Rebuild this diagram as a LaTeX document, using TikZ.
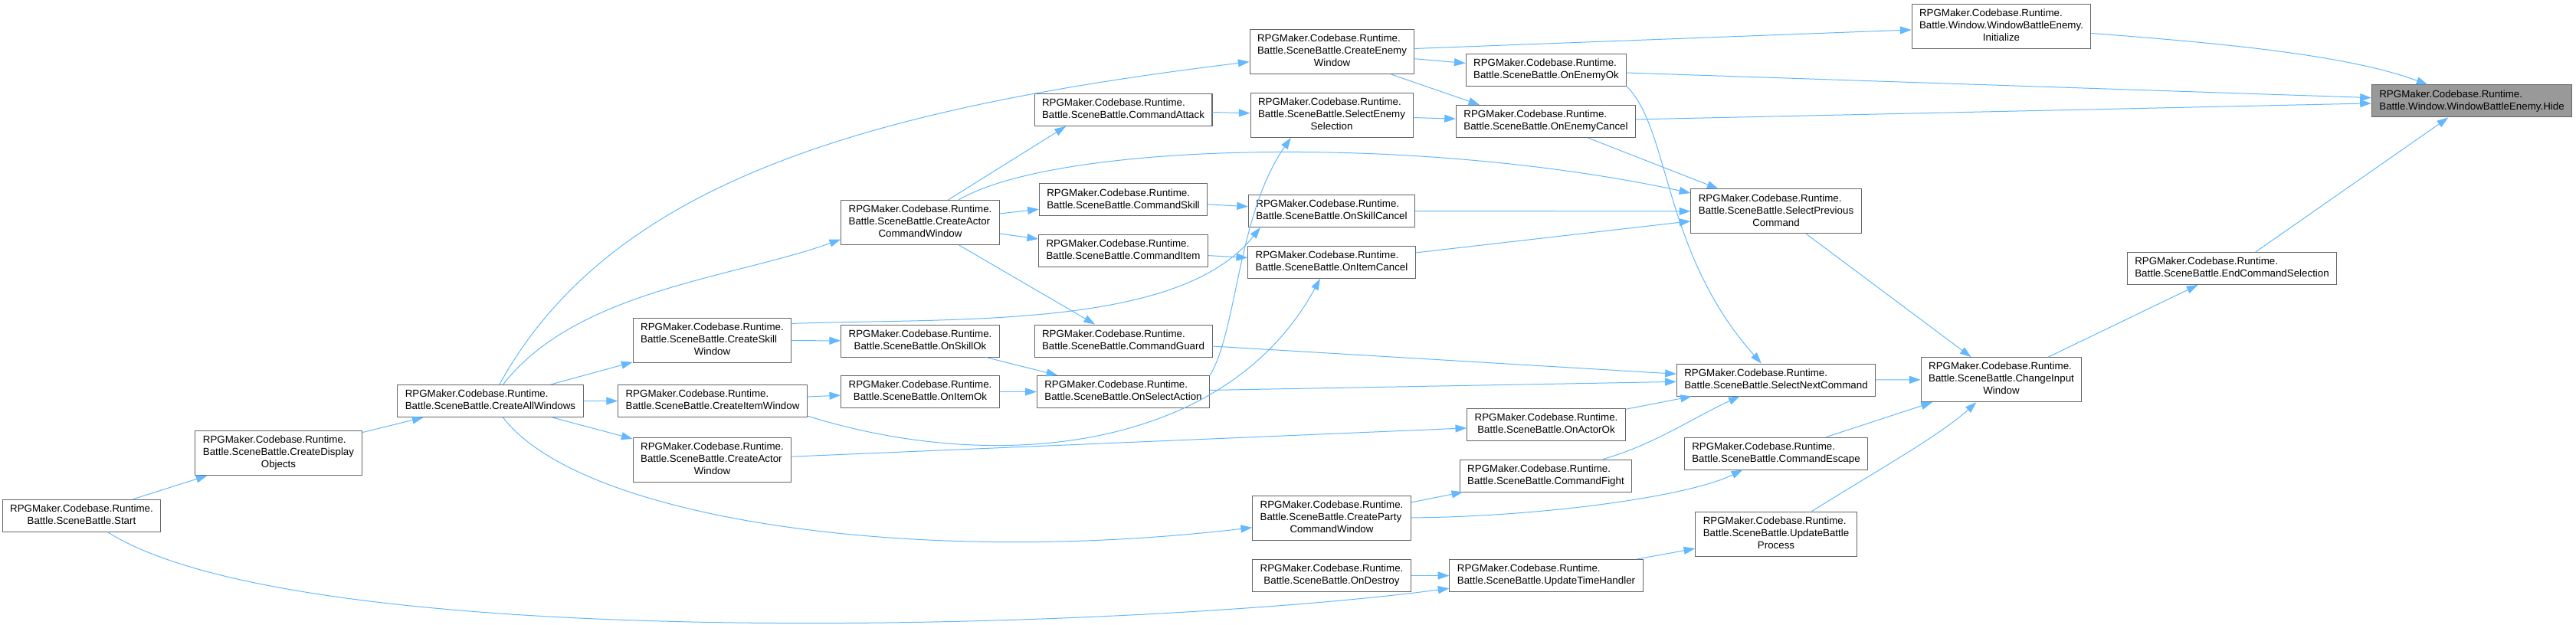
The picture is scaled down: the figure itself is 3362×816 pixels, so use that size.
\documentclass[tikz,border=0pt]{standalone}
\usepackage{fontspec}
\setmainfont{Liberation Sans}
\usepackage{tikz}
\usetikzlibrary{arrows.meta}
\definecolor{edgeblue}{RGB}{99,184,255}
\definecolor{boxline}{RGB}{102,102,102}
\definecolor{hidefill}{RGB}{153,153,153}

% labels: first lines left, last line centred
\newcommand{\twoln}[1]{\begin{tabular}{@{}l@{}}RPGMaker.Codebase.Runtime.\\\multicolumn{1}{@{}c@{}}{#1}\end{tabular}}
\newcommand{\threeln}[2]{\begin{tabular}{@{}l@{}}RPGMaker.Codebase.Runtime.\\#1\\\multicolumn{1}{@{}c@{}}{#2}\end{tabular}}

\begin{document}
\begin{tikzpicture}[
    x=0.75pt, y=-0.75pt,
    fnbox/.style  = {rectangle, draw=boxline, fill=white, line width=0.75pt,
                     inner xsep=7.5pt, inner ysep=3.75pt,
                     font=\fontsize{10}{12}\selectfont},
    hilite/.style = {fnbox, fill=hidefill},
    arrow/.style  = {-{Triangle[length=11pt, width=7.5pt]}, edgeblue, line width=0.75pt},
]
\useasboundingbox (0,0) rectangle (3362,816);

% --- callers, left to right ---
\node[fnbox] (start)         at (106.5,673)   {\twoln{Battle.SceneBattle.Start}};
\node[fnbox] (cdo)           at (363.5,591.5) {\threeln{Battle.SceneBattle.CreateDisplay}{Objects}};
\node[fnbox] (caw)           at (640,523.5)   {\twoln{Battle.SceneBattle.CreateAllWindows}};
\node[fnbox] (createskill)   at (929.5,444.5) {\threeln{Battle.SceneBattle.CreateSkill}{Window}};
\node[fnbox] (createitem)    at (930,523.5)   {\twoln{Battle.SceneBattle.CreateItemWindow}};
\node[fnbox] (createactor)   at (929.5,600.5) {\threeln{Battle.SceneBattle.CreateActor}{Window}};
\node[fnbox] (cacw)          at (1201,290.5)  {\threeln{Battle.SceneBattle.CreateActor}{CommandWindow}};
\node[fnbox] (onskillok)     at (1201,445)    {\twoln{Battle.SceneBattle.OnSkillOk}};
\node[fnbox] (onitemok)      at (1201,511.5)  {\twoln{Battle.SceneBattle.OnItemOk}};
\node[fnbox] (cmdattack)     at (1466,143.5)  {\twoln{Battle.SceneBattle.CommandAttack}};
\node[fnbox] (cmdskill)      at (1466,261)    {\twoln{Battle.SceneBattle.CommandSkill}};
\node[fnbox] (cmditem)       at (1466,327.5)  {\twoln{Battle.SceneBattle.CommandItem}};
\node[fnbox] (cmdguard)      at (1466,445)    {\twoln{Battle.SceneBattle.CommandGuard}};
\node[fnbox] (onselect)      at (1466,511.5)  {\twoln{Battle.SceneBattle.OnSelectAction}};
\node[fnbox] (cew)           at (1738.5,67.5) {\threeln{Battle.SceneBattle.CreateEnemy}{Window}};
\node[fnbox] (selenemy)      at (1738,150.5)  {\threeln{Battle.SceneBattle.SelectEnemy}{Selection}};
\node[fnbox] (onskillcancel) at (1738,275.5)  {\twoln{Battle.SceneBattle.OnSkillCancel}};
\node[fnbox] (onitemcancel)  at (1738,342.5)  {\twoln{Battle.SceneBattle.OnItemCancel}};
\node[fnbox] (cpcw)          at (1738,676.5)  {\threeln{Battle.SceneBattle.CreateParty}{CommandWindow}};
\node[fnbox] (ondestroy)     at (1738,751.5)  {\twoln{Battle.SceneBattle.OnDestroy}};
\node[fnbox] (onenemyok)     at (2018,91.5)   {\twoln{Battle.SceneBattle.OnEnemyOk}};
\node[fnbox] (onenemycancel) at (2017.5,158.5) {\twoln{Battle.SceneBattle.OnEnemyCancel}};
\node[fnbox] (onactorok)     at (2018,554.5)  {\twoln{Battle.SceneBattle.OnActorOk}};
\node[fnbox] (cmdfight)      at (2017.5,621)  {\twoln{Battle.SceneBattle.CommandFight}};
\node[fnbox] (uth)           at (2018,751.5)  {\twoln{Battle.SceneBattle.UpdateTimeHandler}};
\node[fnbox] (selprev)       at (2318,276)    {\threeln{Battle.SceneBattle.SelectPrevious}{Command}};
\node[fnbox] (selnext)       at (2318,496)    {\twoln{Battle.SceneBattle.SelectNextCommand}};
\node[fnbox] (cmdescape)     at (2318,592)    {\twoln{Battle.SceneBattle.CommandEscape}};
\node[fnbox] (ubp)           at (2318,697)    {\threeln{Battle.SceneBattle.UpdateBattle}{Process}};
\node[fnbox] (changeinput)   at (2612,495.7)  {\threeln{Battle.SceneBattle.ChangeInput}{Window}};
\node[fnbox] (endcmd)        at (2913,350.5)  {\twoln{Battle.SceneBattle.EndCommandSelection}};
\node[fnbox] (init)          at (2612,34.5)   {\threeln{Battle.Window.WindowBattleEnemy.}{Initialize}};
\node[hilite] (hide)         at (3226,132)    {\twoln{Battle.Window.WindowBattleEnemy.Hide}};

% --- calls ---
\draw[arrow] (start) -- (cdo);
\draw[arrow] (start) .. controls (400,860) and (1500,820) .. (uth);
\draw[arrow] (cdo) -- (caw);
\draw[arrow] (caw) -- (createskill);
\draw[arrow] (caw) -- (createitem);
\draw[arrow] (caw) -- (createactor);
\draw[arrow] (caw) .. controls (797,238) and (1129,142) .. (cew);
\draw[arrow] (caw) .. controls (752,379) and (957,363) .. (cacw.192);
\draw[arrow] (caw) .. controls (760,680) and (1200,740) .. (cpcw);
\draw[arrow] (createskill) -- (onskillok);
\draw[arrow] (createskill.12) .. controls (1250,415) and (1540,430) .. (onskillcancel.193);
\draw[arrow] (createitem) -- (onitemok);
\draw[arrow] (createitem.351) .. controls (1300,620) and (1600,590) .. (onitemcancel.235);
\draw[arrow] (createactor) -- (onactorok);
\draw[arrow] (cacw.39) -- (cmdattack.196);
\draw[arrow] (cacw) -- (cmdskill);
\draw[arrow] (cacw) -- (cmditem);
\draw[arrow] (cacw) -- (cmdguard);
\draw[arrow] (cacw) .. controls (1380,185) and (1850,175) .. (selprev);
\draw[arrow] (onskillok) -- (onselect);
\draw[arrow] (onitemok) -- (onselect);
\draw[arrow] (cmdattack) -- (selenemy);
\draw[arrow] (cmdskill) -- (onskillcancel);
\draw[arrow] (cmditem) -- (onitemcancel);
\draw[arrow] (cmdguard) -- (selnext);
\draw[arrow] (onselect) -- (selnext);
\draw[arrow] (onselect.north east) .. controls (1615,430) and (1615,280) .. (selenemy.209);
\draw[arrow] (cew) -- (init);
\draw[arrow] (cew) -- (onenemyok);
\draw[arrow] (cew.339) -- (onenemycancel.166);
\draw[arrow] (selenemy) -- (onenemycancel);
\draw[arrow] (onskillcancel) -- (selprev);
\draw[arrow] (onitemcancel) -- (selprev);
\draw[arrow] (cpcw) -- (cmdfight);
\draw[arrow] (cpcw) .. controls (2000,675) and (2200,650) .. (cmdescape);
\draw[arrow] (ondestroy) -- (uth);
\draw[arrow] (onenemyok) -- (hide);
\draw[arrow] (onenemyok.south east) .. controls (2180,170) and (2170,330) .. (selnext);
\draw[arrow] (onenemycancel) -- (hide);
\draw[arrow] (onenemycancel) -- (selprev);
\draw[arrow] (onactorok) -- (selnext);
\draw[arrow] (cmdfight) .. controls (2160,580) and (2210,545) .. (selnext);
\draw[arrow] (uth) -- (ubp);
\draw[arrow] (selprev) -- (changeinput);
\draw[arrow] (selnext) -- (changeinput);
\draw[arrow] (cmdescape) -- (changeinput);
\draw[arrow] (ubp) .. controls (2440,620) and (2530,570) .. (changeinput);
\draw[arrow] (changeinput) -- (endcmd);
\draw[arrow] (endcmd) -- (hide);
\draw[arrow] (init) .. controls (2880,55) and (3060,70) .. (hide);

\end{tikzpicture}
\end{document}
